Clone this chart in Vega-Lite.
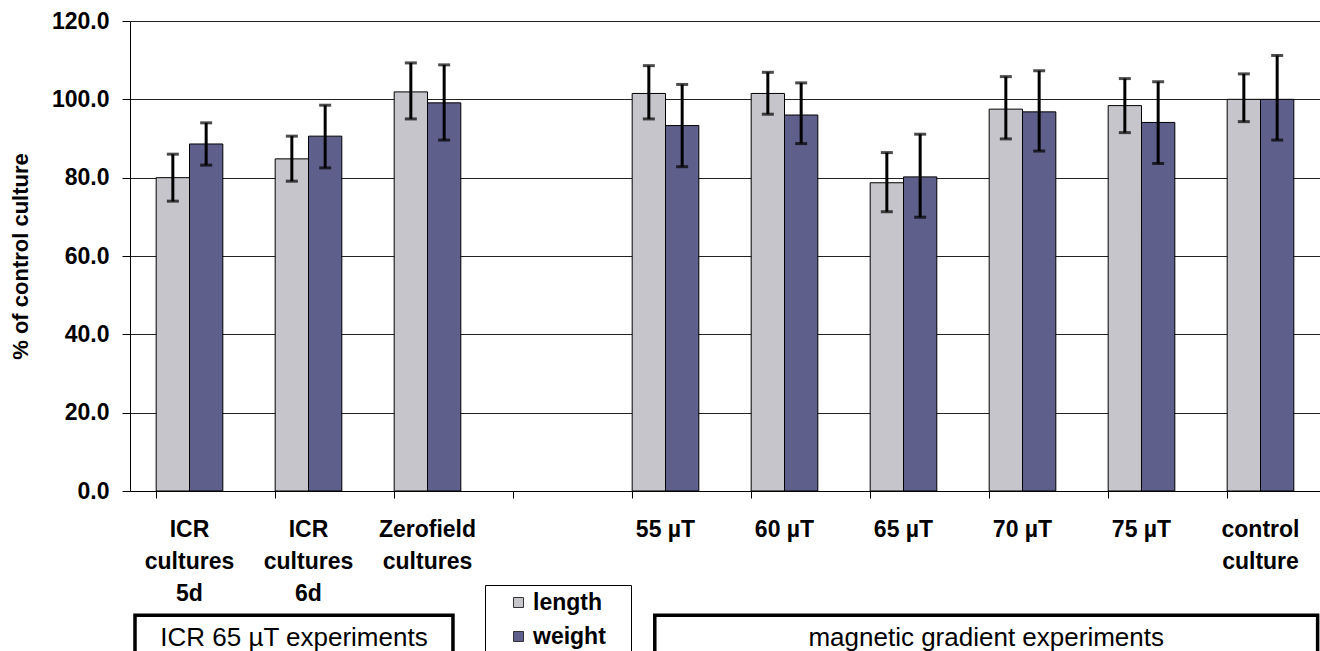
{
  "$schema": "https://vega.github.io/schema/vega-lite/v6.json",
  "autosize": {"type": "none"},
  "padding": {"left": 130, "top": 21, "right": 0, "bottom": 160},
  "width": 1190,
  "height": 470,
  "background": "white",
  "config": {
    "font": "Liberation Sans",
    "view": {"stroke": null},
    "axis": {"labelFont": "Liberation Sans", "titleFont": "Liberation Sans", "labelColor": "black", "titleColor": "black"}
  },
  "datasets": {
    "bars": [
      {"category": "ICR|cultures|5d", "measure": "length", "value": 80.0, "lo": 74.0, "hi": 86.0},
      {"category": "ICR|cultures|5d", "measure": "weight", "value": 88.6, "lo": 83.2, "hi": 94.0},
      {"category": "ICR|cultures|6d", "measure": "length", "value": 84.8, "lo": 79.1, "hi": 90.6},
      {"category": "ICR|cultures|6d", "measure": "weight", "value": 90.6, "lo": 82.5, "hi": 98.5},
      {"category": "Zerofield|cultures", "measure": "length", "value": 101.9, "lo": 95.0, "hi": 109.3},
      {"category": "Zerofield|cultures", "measure": "weight", "value": 99.1, "lo": 89.6, "hi": 108.8},
      {"category": "55 µT", "measure": "length", "value": 101.5, "lo": 95.0, "hi": 108.6},
      {"category": "55 µT", "measure": "weight", "value": 93.3, "lo": 82.8, "hi": 103.8},
      {"category": "60 µT", "measure": "length", "value": 101.5, "lo": 96.2, "hi": 106.9},
      {"category": "60 µT", "measure": "weight", "value": 96.0, "lo": 88.7, "hi": 104.2},
      {"category": "65 µT", "measure": "length", "value": 78.7, "lo": 71.3, "hi": 86.4},
      {"category": "65 µT", "measure": "weight", "value": 80.2, "lo": 69.9, "hi": 91.1},
      {"category": "70 µT", "measure": "length", "value": 97.5, "lo": 89.9, "hi": 105.8},
      {"category": "70 µT", "measure": "weight", "value": 96.8, "lo": 86.8, "hi": 107.3},
      {"category": "75 µT", "measure": "length", "value": 98.4, "lo": 91.5, "hi": 105.3},
      {"category": "75 µT", "measure": "weight", "value": 94.1, "lo": 83.6, "hi": 104.5},
      {"category": "control|culture", "measure": "length", "value": 100.0, "lo": 94.3, "hi": 106.5},
      {"category": "control|culture", "measure": "weight", "value": 100.0, "lo": 89.6, "hi": 111.2}
    ],
    "groups": [
      {"group": "ICR 65 µT experiments", "start": 0.042, "end": 2.714},
      {"group": "magnetic gradient  experiments", "start": 4.41, "end": 9.98}
    ]
  },
  "layer": [
    {
      "data": {"name": "bars"},
      "encoding": {
        "x": {
          "field": "category", "type": "nominal",
          "scale": {
            "domain": ["ICR|cultures|5d", "ICR|cultures|6d", "Zerofield|cultures", " ", "55 µT", "60 µT", "65 µT", "70 µT", "75 µT", "control|culture"],
            "paddingInner": 0.44, "paddingOuter": 0.22
          },
          "axis": {
            "title": null, "labelAngle": 0, "bandPosition": 0,
            "labelExpr": "split(datum.label, '|')",
            "labelFontSize": 23, "labelFontWeight": "bold", "labelLineHeight": 32,
            "labelBaseline": "top", "labelPadding": 20,
            "tickSize": 7, "tickColor": "black", "tickWidth": 1,
            "domainColor": "black", "domainWidth": 1, "grid": false, "labelLimit": 200
          }
        },
        "xOffset": {"field": "measure", "type": "nominal", "scale": {"paddingInner": 0, "paddingOuter": 0}}
      },
      "layer": [
        {
          "mark": {"type": "bar", "stroke": "black", "strokeWidth": 1},
          "encoding": {
            "y": {
              "field": "value", "type": "quantitative",
              "scale": {"domain": [0, 120], "nice": false},
              "axis": {
                "title": "% of control culture", "values": [0, 20, 40, 60, 80, 100, 120], "format": ".1f",
                "labelFontSize": 23, "labelFontWeight": "bold", "labelPadding": 13,
                "tickSize": 8, "tickColor": "black", "domainColor": "black",
                "grid": true, "gridColor": "#222", "gridWidth": 1,
                "titleFontSize": 22, "titleFontWeight": "bold", "titlePadding": 19
              }
            },
            "color": {
              "field": "measure", "type": "nominal",
              "scale": {"domain": ["length", "weight"], "range": ["#c6c5cb", "#5e5f8a"]},
              "legend": {
                "title": null, "orient": "none", "legendX": 355, "legendY": 564,
                "strokeColor": "black", "padding": 6, "symbolOffset": 16,
                "symbolType": "square", "symbolSize": 100, "symbolStrokeColor": "#333", "symbolStrokeWidth": 1,
                "labelFontSize": 23, "labelFontWeight": "bold", "labelColor": "black", "labelOffset": 3,
                "rowPadding": 10, "labelExpr": "datum.label + '\u00a0\u00a0\u00a0\u200b'", "fillColor": "white"
              }
            }
          }
        },
        {
          "mark": {"type": "rule", "strokeWidth": 3, "color": "black"},
          "encoding": {
            "y": {"field": "lo", "type": "quantitative"},
            "y2": {"field": "hi"}
          }
        },
        {
          "mark": {"type": "tick", "size": 12, "thickness": 3, "color": "black", "orient": "horizontal"},
          "encoding": {"y": {"field": "lo", "type": "quantitative"}}
        },
        {
          "mark": {"type": "tick", "size": 12, "thickness": 3, "color": "black", "orient": "horizontal"},
          "encoding": {"y": {"field": "hi", "type": "quantitative"}}
        }
      ]
    },
    {
      "data": {"name": "groups"},
      "transform": [{"calculate": "(datum.start + datum.end) / 2", "as": "mid"}],
      "layer": [
        {
          "mark": {"type": "rect", "fill": "white", "stroke": "black", "strokeWidth": 3.5, "clip": false},
          "encoding": {
            "x": {"field": "start", "type": "quantitative", "scale": {"domain": [0, 10], "nice": false}, "axis": null},
            "x2": {"field": "end"},
            "y": {"datum": -31.7, "type": "quantitative", "scale": {"domain": [0, 120], "nice": false}},
            "y2": {"datum": -45}
          }
        },
        {
          "mark": {"type": "text", "fontSize": 26, "font": "Liberation Sans", "color": "black", "baseline": "middle", "align": "center"},
          "encoding": {
            "x": {"field": "mid", "type": "quantitative", "scale": {"domain": [0, 10], "nice": false}, "axis": null},
            "y": {"datum": -37.5, "type": "quantitative"},
            "text": {"field": "group"}
          }
        }
      ]
    }
  ],
  "resolve": {"scale": {"x": "independent"}}
}
